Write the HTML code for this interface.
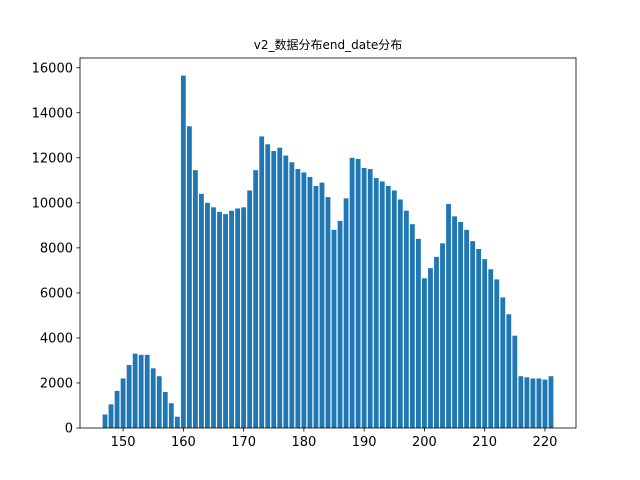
<!DOCTYPE html>
<html><head><meta charset="utf-8"><style>body{margin:0;background:#fff}svg{display:block}</style></head>
<body>
<svg id="chart" width="640" height="480" font-family="'DejaVu Sans','Noto Sans CJK SC',sans-serif">
<text x="328" y="49" text-anchor="middle" font-size="12">v2_数据分布end_date分布</text>
<g id="bars"></g>
<g id="axes"></g>
</svg>
<script>
const categories = [];
for (let d = 147; d <= 221; d++) categories.push(d);
const values = [600,1050,1650,2200,2800,3300,3250,3250,2650,2300,1600,1100,500,
15650,13400,11450,10400,10000,9800,9600,9500,9650,9750,9800,10550,11450,12950,12600,12300,12450,12100,11800,11500,11350,11150,10750,10900,10250,8800,9200,10200,12000,11950,11550,11500,11100,10950,10750,10550,10150,9650,9050,8400,6650,7100,7600,8200,9950,9400,9150,8800,8300,7950,7500,7050,6600,5800,5050,4100,2300,2250,2200,2200,2150,2300];
const xTicks = [150,160,170,180,190,200,210,220];
const yTicks = [0,2000,4000,6000,8000,10000,12000,14000,16000];

const L=80,R=576,T=58,B=428;
const xmin=142.85,xmax=225.15,ymax=Math.max(...values)*1.05;
const xs=v=>L+(v-xmin)/(xmax-xmin)*(R-L);
const ys=v=>B-v/ymax*(B-T);
const NS='http://www.w3.org/2000/svg';
const bars=document.getElementById('bars'),axes=document.getElementById('axes');
function mk(tag,attrs,parent){const e=document.createElementNS(NS,tag);for(const k in attrs)e.setAttribute(k,attrs[k]);parent.appendChild(e);return e;}
categories.forEach((c,i)=>{
  const x0=xs(c-0.4),x1=xs(c+0.4);
  const r=mk('rect',{x:x0,y:ys(values[i]),width:x1-x0,height:B-ys(values[i]),fill:'#1f77b4'},bars);
  
  
});
const frame=mk('rect',{x:L,y:T,width:R-L,height:B-T,fill:'none',stroke:'#000','stroke-width':0.8},axes);


xTicks.forEach(t=>{
  const x=xs(t);
  mk('line',{x1:x,x2:x,y1:B,y2:B+3.5,stroke:'#000','stroke-width':0.8},axes);
  const tx=mk('text',{x:x,y:B+18,'text-anchor':'middle','font-size':13},axes);
  tx.textContent=t;
  
  
});
yTicks.forEach(t=>{
  const y=ys(t);
  mk('line',{x1:L,x2:L-3.5,y1:y,y2:y,stroke:'#000','stroke-width':0.8},axes);
  const tx=mk('text',{x:L-7,y:y+4.7,'text-anchor':'end','font-size':13},axes);
  tx.textContent=t;
  
  
});
</script>
</body></html>
